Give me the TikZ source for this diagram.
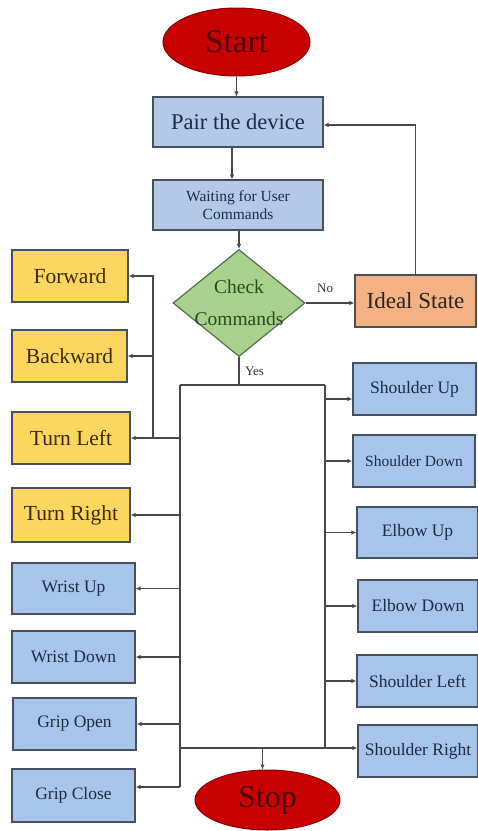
\documentclass[tikz,border=0pt]{standalone}
\usepackage{fontspec}
\setmainfont{Liberation Serif}
\usetikzlibrary{shapes.geometric,arrows.meta}
\definecolor{bluef}{HTML}{A7C5EA}
\definecolor{bluep}{HTML}{B4C9E8}
\definecolor{yelf}{HTML}{FDD660}
\definecolor{oranf}{HTML}{F4B183}
\definecolor{greenf}{HTML}{A9D18E}
\definecolor{redf}{HTML}{C80000}
\definecolor{bord}{HTML}{46505E}
\definecolor{linec}{HTML}{484848}
\definecolor{bluet}{HTML}{1E2B45}
\definecolor{yelt}{HTML}{3A2A05}
\definecolor{redt}{HTML}{4A0000}
\definecolor{greent}{HTML}{2C4A1C}
\tikzset{
  fs/.style={font=\fontsize{#1}{#1}\selectfont},
  boxb/.style={draw=bord, line width=1.2pt, fill=bluef, text=bluet, inner sep=0pt, align=center, fs=17.5},
  boxp/.style={boxb, fill=bluep},
  boxy/.style={draw=bord, line width=1.2pt, fill=yelf, text=yelt, inner sep=0pt, fs=21.5},
  term/.style={ellipse, draw=redf!70!black, line width=1pt, fill=redf, text=redt, inner sep=0pt, fs=33},
  conn/.style={draw=linec, line width=1.4pt},
  arr/.style={conn, -{Latex[length=5pt,width=4.5pt]}},
}
\begin{document}
\begin{tikzpicture}[x=1pt,y=-1pt]
\useasboundingbox (0,0) rectangle (478,831);
\fill[white] (0,0) rectangle (478,831);
% top flow
\node[term, minimum width=147pt, minimum height=68pt] (start) at (236.5,42) {Start};
\node[boxp, minimum width=170pt, minimum height=50pt, fs=22.5] (pair) at (238,122) {Pair the device};
\node[boxp, minimum width=170pt, minimum height=50pt, fs=15.5, align=center] (wait) at (238,205) {Waiting for User\\[3pt]Commands};
\node[diamond, draw=greent!80, line width=1.2pt, fill=greenf, inner sep=0pt, minimum width=132pt, minimum height=107pt,
  label={[fs=19.5, text=greent, align=center]center:Check\\[12pt]Commands}] (chk) at (239,303) {};
\node[draw=bord, line width=1.2pt, fill=oranf, text=black!85, inner sep=0pt, minimum width=121pt, minimum height=52pt, fs=23] (ideal) at (415.5,301) {Ideal State};
% left yellow
\node[boxy, minimum width=116pt, minimum height=52pt] (fwd) at (70,276) {Forward};
\node[boxy, minimum width=115pt, minimum height=52pt] (bwd) at (69.5,356) {Backward};
\node[boxy, minimum width=118pt, minimum height=52pt] (tl) at (71,438) {Turn Left};
\node[boxy, minimum width=118pt, minimum height=54pt] (tr) at (71,515) {Turn Right};
% left blue
\node[boxb, minimum width=123pt, minimum height=51pt] (wu) at (73.5,588.5) {Wrist Up};
\node[boxb, minimum width=123pt, minimum height=52pt] (wd) at (73.5,657) {Wrist Down};
\node[boxb, minimum width=123pt, minimum height=52pt] (go) at (74.5,724) {Grip Open};
\node[boxb, minimum width=123pt, minimum height=53pt] (gc) at (73.5,795.5) {Grip Close};
% right blue
\node[boxb, minimum width=123pt, minimum height=52pt] (su) at (414.5,389) {Shoulder Up};
\node[boxb, minimum width=122pt, minimum height=52pt, fs=15.5] (sd) at (414,461) {Shoulder Down};
\node[boxb, minimum width=121pt, minimum height=51pt] (eu) at (417.5,532.5) {Elbow Up};
\node[boxb, minimum width=120pt, minimum height=52pt] (ed) at (418,606) {Elbow Down};
\node[boxb, minimum width=121pt, minimum height=52pt] (sl) at (417.5,681) {Shoulder Left};
\node[boxb, minimum width=120pt, minimum height=52pt] (sr) at (418,751) {Shoulder Right};
% stop
\node[term, minimum width=145pt, minimum height=60pt, fs=32] (stop) at (267.5,800) {Stop};
% bus coordinates
\coordinate (lt) at (180,385);
\coordinate (rt) at (325,385);
\coordinate (lb) at (180,787);
\coordinate (rb) at (325,748);
\coordinate (bl) at (180,748);
\coordinate (sb) at (153,438);
% connectors top
\draw[arr] (start.south) -- (start.south |- pair.north);
\draw[arr] ([xshift=-6pt]pair.south) -- ([xshift=-6pt]wait.north);
\draw[arr] (wait.south -| chk.north) -- (chk.north);
\draw[arr] (chk.east) -- (chk.east -| ideal.west) node[pos=0.4, above=6pt, fs=13, text=black!80] (no) {No};
\draw[arr] (ideal.north) |- ([yshift=-3pt]pair.east);
\draw[conn] (chk.south) -- (chk.south |- lt) node[pos=0.5, right=2pt, fs=13, text=black!80] (yes) {Yes};
% buses
\draw[conn] (lt) -- (rt);
\draw[conn] (lt) -- (lb);
\draw[conn] (rt) -- (rb);
% left arrows
\draw[arr] (sb) |- (fwd.east);
\draw[arr] (sb |- bwd.east) -- (bwd.east);
\draw[arr] (lt |- tl.east) -- (tl.east);
\draw[arr] (lt |- tr.east) -- (tr.east);
\draw[arr] (lt |- wu.east) -- (wu.east);
\draw[arr] (lt |- wd.east) -- (wd.east);
\draw[arr] (lt |- go.east) -- (go.east);
\draw[arr] (lb) -- (gc.east |- lb);
% right arrows
\draw[arr] ([yshift=-10pt]rt |- su.west) -- ([yshift=-10pt]su.west);
\draw[arr] (rt |- sd.west) -- (sd.west);
\draw[arr] (rt |- eu.west) -- (eu.west);
\draw[arr] (rt |- ed.west) -- (ed.west);
\draw[arr] (rt |- sl.west) -- (sl.west);
\draw[arr] (bl) -- (sr.west |- bl);
\draw[arr] ([xshift=-5pt]stop.north |- bl) -- ([xshift=-5pt]stop.north);
\end{tikzpicture}
\end{document}
